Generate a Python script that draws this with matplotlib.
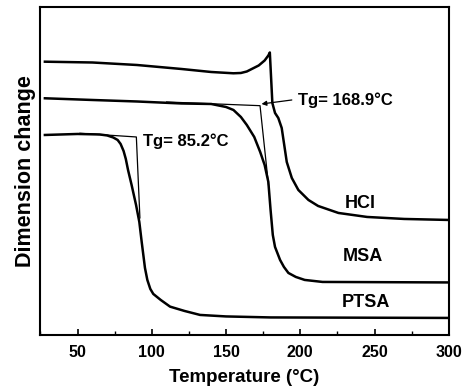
import matplotlib
matplotlib.use("Agg")
import matplotlib.pyplot as plt
from matplotlib.ticker import MultipleLocator, NullLocator

plt.rcParams['font.family'] = ['Liberation Sans', 'DejaVu Sans']
plt.rcParams['font.weight'] = 'bold'

# temperature (C) vs dimension change (arbitrary units)
hcl_t = [28, 60, 90, 120, 140, 155, 160, 164, 168, 172, 176, 178.5, 179.5, 181.2, 183, 185.2,
         187.5, 189.2, 190.9, 194.3, 198.7, 205.5, 212, 225.7, 245, 270, 300]
hcl_v = [273.3, 272.5, 270, 266, 263, 261.7, 262, 263.5, 266.5, 269.5, 274.5, 279.5, 282.5, 232, 222, 217,
         207, 190, 173, 157, 145, 135, 129, 122, 118, 116, 115]

msa_t = [28, 60, 90, 120, 140, 150, 155, 160, 164, 169, 173, 176, 178.5, 180, 181.5,
         183, 186.4, 189, 192, 197, 203, 215, 300]
msa_v = [236.7, 235, 233.5, 231.5, 231, 228, 225, 218, 210, 198, 183, 170, 153, 125, 100,
         88, 75, 68, 62, 58, 55, 53, 52.5]

ptsa_t = [28, 50, 65, 70, 74, 77, 79, 81, 82.5, 84, 86.4, 89.4, 91.6, 93.2, 95.4, 97, 99, 101,
          106, 112.3, 122, 132.5, 150, 180, 300]
ptsa_v = [200, 201, 200.5, 199.5, 197.5, 195, 191, 184, 176, 165, 150, 130, 113, 93, 67, 55, 46, 41,
          35, 28.3, 24, 20, 18.5, 17.5, 17]

# tangent construction lines for Tg
ptsa_tan_t = [51.6, 89.6, 92]
ptsa_tan_v = [201.7, 198, 117]
msa_tan_t = [110, 172.9, 178.6]
msa_tan_v = [233, 229.3, 150]

fig = plt.figure(figsize=(4.65, 3.89), dpi=100)
ax = fig.add_axes([0.086, 0.139, 0.880, 0.843])

for t, v in [(hcl_t, hcl_v), (msa_t, msa_v), (ptsa_t, ptsa_v)]:
    ax.plot(t, v, color='black', lw=1.8, solid_joinstyle='round')

ax.plot(ptsa_tan_t, ptsa_tan_v, color='black', lw=0.9)
ax.plot(msa_tan_t, msa_tan_v, color='black', lw=0.9)

ax.annotate('', xy=(173.9, 231), xytext=(194.3, 235),
            arrowprops=dict(arrowstyle='-|>', color='black', lw=0.9,
                            mutation_scale=7, shrinkA=0, shrinkB=0))

ax.text(198.5, 235, 'Tg= 168.9°C', fontsize=12, fontweight='bold', ha='left', va='center')
ax.text(94, 193.3, 'Tg= 85.2°C', fontsize=12, fontweight='bold', ha='left', va='center')
ax.text(240.3, 131, 'HCl', fontsize=13, fontweight='bold', ha='center', va='center')
ax.text(242.3, 78, 'MSA', fontsize=13, fontweight='bold', ha='center', va='center')
ax.text(244.3, 32, 'PTSA', fontsize=13, fontweight='bold', ha='center', va='center')

ax.set_xlim(24.7, 300.3)
ax.set_ylim(0, 328)
ax.xaxis.set_major_locator(MultipleLocator(50))
ax.xaxis.set_minor_locator(MultipleLocator(25))
ax.yaxis.set_major_locator(NullLocator())
ax.tick_params(axis='x', which='major', direction='in', length=4, width=1.2,
               labelsize=11.5, pad=7)
ax.tick_params(axis='x', which='minor', direction='in', length=3, width=1.0)
for lab in ax.get_xticklabels():
    lab.set_fontweight('bold')
for s in ax.spines.values():
    s.set_linewidth(1.5)

ax.set_xlabel('Temperature (°C)', fontsize=13.5, fontweight='bold', labelpad=7)
ax.set_ylabel('Dimension change', fontsize=15.5, fontweight='bold', labelpad=3)

fig.savefig('out.png', dpi=100)
